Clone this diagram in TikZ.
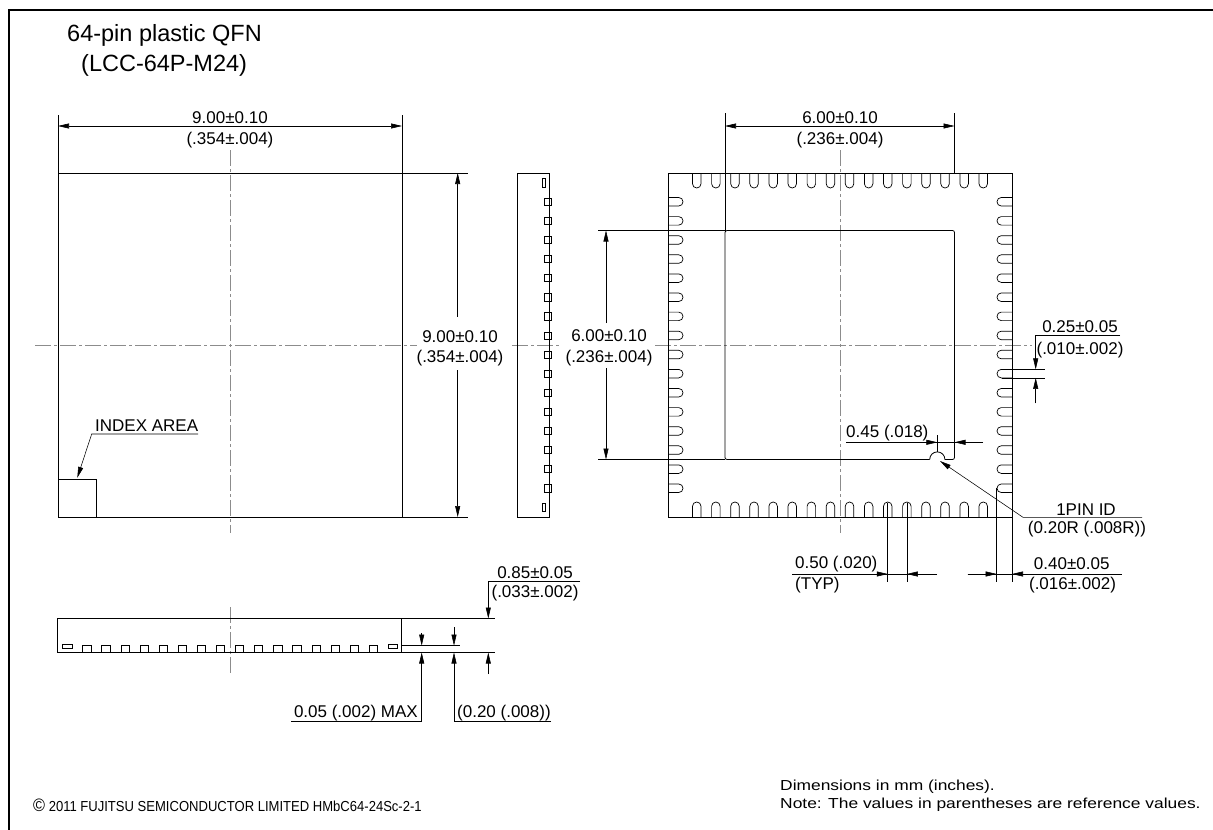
\documentclass[tikz,border=0pt]{standalone}
\usepackage{fontspec}
\setmainfont{Liberation Sans}
\newfontfamily\notefont[FakeStretch=1.2]{Liberation Sans}
\newfontfamily\copyfont[FakeStretch=0.9]{Liberation Sans}
\usetikzlibrary{arrows.meta}
\tikzset{
  outline/.style={draw=black,line width=0.8pt},
  dimline/.style={draw=black,line width=0.55pt},
  dimarrow/.style={dimline,-{Triangle[length=11pt,width=5pt]}},
  dimboth/.style={dimline,{Triangle[length=11pt,width=5pt]}-{Triangle[length=11pt,width=5pt]}},
  cline/.style={draw=black!45,line width=0.7pt,dash pattern=on 16pt off 3pt on 3pt off 3pt},
  dimtext/.style={font=\fontsize{17}{20}\selectfont,inner sep=0pt,text height=12.2pt,text depth=0pt},
  titletext/.style={anchor=base west,inner sep=0pt,font=\fontsize{23.5}{26}\selectfont},
  pinU/.style={outline,line width=0.7pt,rounded corners=4.2pt},
  padbox/.style={outline,line width=0.7pt},
}
\begin{document}
\begin{tikzpicture}[x=1pt,y=-1pt]
\useasboundingbox (0,0) rectangle (1213,830);
\fill[white] (0,0) rectangle (1213,830);
\draw[line width=1.5pt] (9,830) -- (9,10) -- (1213,10);

% title
\node[titletext] (title1) at (67,41.7) {64-pin plastic QFN};
\node[titletext] (title2) at (81,71.7) {(LCC-64P-M24)};

% center lines
\draw[cline] (230,150) -- (230,533);
\draw[cline] (840,150) -- (840,533);
\draw[cline] (230,607) -- (230,676);
\draw[cline] (35,345) -- (417,345);
\draw[cline] (512,345) -- (560,345);
\draw[cline] (655,345) -- (1032,345);

% ---------- top view ----------
\draw[outline] (58,173) rectangle (402,517);
\draw[outline] (58,479) rectangle (96,517);
\node[dimtext,anchor=west] (idx) at (95,425.6) {INDEX AREA};
\draw[dimarrow] (198,434) -- (91.7,434) -- (77.3,477.8);

\draw[dimline] (58,115) -- (58,173);
\draw[dimline] (402,115) -- (402,173);
\draw[dimboth] (58,126) -- (402,126);
\node[dimtext] (w1a) at (230,117.8) {9.00±0.10};
\node[dimtext] (w1b) at (230,138) {(.354±.004)};

\draw[dimline] (402,173) -- (468,173);
\draw[dimline] (402,517) -- (468,517);
\draw[dimarrow] (457.7,316.7) -- (457.7,173);
\draw[dimarrow] (457.7,370) -- (457.7,517);
\node[dimtext] (h1a) at (460,336) {9.00±0.10};
\node[dimtext] (h1b) at (460,356) {(.354±.004)};

% ---------- side view ----------
\draw[outline] (517,173) rectangle (549.2,517);
\foreach \i in {0,...,15}{
  \pgfmathsetmacro{\py}{345+(\i-7.5)*19.1}
  \draw[padbox] (544.6,{\py-3.6}) rectangle (551.8,{\py+3.6});
}
\draw[padbox] (542.6,178.3) rectangle (545.6,186.9);
\draw[padbox] (542.6,503.1) rectangle (545.6,511.7);

% ---------- bottom view ----------
\draw[outline] (668,173) rectangle (1012,517);
\foreach \i in {0,...,15}{
  \pgfmathsetmacro{\px}{840+(\i-7.5)*19.1}
  \pgfmathsetmacro{\py}{345+(\i-7.5)*19.1}
  \draw[pinU] ({\px-4.25},173) -- ({\px-4.25},188) -- ({\px+4.25},188) -- ({\px+4.25},173);
  \draw[pinU] ({\px-4.25},517) -- ({\px-4.25},502) -- ({\px+4.25},502) -- ({\px+4.25},517);
  \draw[pinU] (668,{\py-4.25}) -- (683,{\py-4.25}) -- (683,{\py+4.25}) -- (668,{\py+4.25});
  \draw[pinU] (1012,{\py-4.25}) -- (997,{\py-4.25}) -- (997,{\py+4.25}) -- (1012,{\py+4.25});
}
% exposed pad with 1pin notch
\draw[outline,rounded corners=2pt] (929.7,459.5) -- (725,459.5) -- (725,230.5) -- (954.5,230.5) -- (954.5,459.5) -- (944.9,459.5);
\draw[outline,rounded corners=7.5pt] (929.7,459.5) -- (929.7,451.9) -- (944.9,451.9) -- (944.9,459.5);

% 6.00 top
\draw[dimline] (725,113) -- (725,230.5);
\draw[dimline] (954.5,113) -- (954.5,173);
\draw[dimboth] (725,126) -- (954.5,126);
\node[dimtext] (w2a) at (840,117.8) {6.00±0.10};
\node[dimtext] (w2b) at (840,138) {(.236±.004)};

% 6.00 left
\draw[dimline] (598,230.5) -- (725,230.5);
\draw[dimline] (598,459.5) -- (725,459.5);
\draw[dimarrow] (606,323) -- (606,230.5);
\draw[dimarrow] (606,368) -- (606,459.5);
\node[dimtext] (h2a) at (609,335) {6.00±0.10};
\node[dimtext] (h2b) at (609,356) {(.236±.004)};

% 0.25
\draw[dimline] (1001.5,369.4) -- (1045,369.4);
\draw[dimline] (1001.5,377.9) -- (1045,377.9);
\draw[dimarrow] (1120,335) -- (1035.7,335) -- (1035.7,369.4);
\draw[dimarrow] (1035.7,403.3) -- (1035.7,377.9);
\node[dimtext] (t25a) at (1080,326) {0.25±0.05};
\node[dimtext] (t25b) at (1080,348) {(.010±.002)};

% 0.45
\draw[dimline] (846,442.3) -- (983,442.3);
\draw[dimarrow] (900,442.3) -- (937.3,442.3);
\draw[dimarrow] (983,442.3) -- (954.5,442.3);
\draw[dimline] (937.3,435) -- (937.3,451.9);
\node[dimtext,anchor=west] (t45) at (846,431.2) {0.45 (.018)};

% 1PIN ID
\draw[dimarrow] (1142,517.3) -- (1023,517.3) -- (940,461);
\node[dimtext] (pid1) at (1086,509.2) {1PIN ID};
\node[dimtext] (pid2) at (1087,527.2) {(0.20R (.008R))};

% 0.50 pitch
\draw[dimline] (887.75,502.5) -- (887.75,581.7);
\draw[dimline] (906.85,502.5) -- (906.85,581.7);
\draw[dimline] (792,574) -- (937,574);
\draw[dimarrow] (860,574) -- (887.75,574);
\draw[dimarrow] (937,574) -- (906.85,574);
\node[dimtext,anchor=west] (t50a) at (795,562.7) {0.50 (.020)};
\node[dimtext,anchor=west] (t50b) at (795,583.3) {(TYP)};

% 0.40
\draw[dimline] (996.7,488.3) -- (996.7,581.7);
\draw[dimline] (1012,517) -- (1012,581.7);
\draw[dimline] (967.7,574) -- (1121.7,574);
\draw[dimarrow] (967.7,574) -- (996.7,574);
\draw[dimarrow] (1060,574) -- (1012,574);
\node[dimtext] (t40a) at (1071.7,563.3) {0.40±0.05};
\node[dimtext] (t40b) at (1072.5,583.3) {(.016±.002)};

% ---------- front (side) view ----------
\draw[outline] (57,618.5) rectangle (401.7,652.5);
\foreach \i in {0,...,15}{
  \pgfmathsetmacro{\px}{230+(\i-7.5)*19.1}
  \draw[padbox] ({\px-4.1},645.6) rectangle ({\px+4.1},652.8);
}
\draw[padbox] (62.5,644.6) rectangle (72,648.6);
\draw[padbox] (388,644.6) rectangle (397.5,648.6);
\draw[dimline] (401.7,618.5) -- (495,618.5);
\draw[dimline] (401.7,645.6) -- (460,645.6);
\draw[dimline] (401.7,652.5) -- (495,652.5);

\draw[dimarrow] (580,581) -- (488.3,581) -- (488.3,618.5);
\draw[dimarrow] (488.3,674) -- (488.3,652.5);
\node[dimtext] (t85a) at (535,572) {0.85±0.05};
\node[dimtext] (t85b) at (535,591) {(.033±.002)};

\draw[dimarrow] (421.7,633) -- (421.7,645.6);
\draw[dimarrow] (291,721) -- (421.7,721) -- (421.7,652.5);
\node[dimtext,anchor=east] (t05) at (418,711) {0.05 (.002) MAX};

\draw[dimarrow] (454,627) -- (454,645.6);
\draw[dimarrow] (551,721) -- (454,721) -- (454,652.5);
\node[dimtext,anchor=west] (t20) at (457,711) {(0.20 (.008))};

% ---------- notes ----------
\node[anchor=base west,inner sep=0pt,font=\copyfont\fontsize{14.5}{16}\selectfont] (copy) at (33,811) {{\fontsize{18}{18}\selectfont\textcopyright}\ 2011 FUJITSU SEMICONDUCTOR LIMITED HMbC64-24Sc-2-1};
\node[anchor=base west,inner sep=0pt,font=\notefont\fontsize{14.5}{16}\selectfont] (note1) at (780,790) {Dimensions in mm (inches).};
\node[anchor=base west,inner sep=0pt,font=\notefont\fontsize{14.5}{16}\selectfont] (note2) at (780,808) {Note: The values in parentheses are reference values.};
\end{tikzpicture}
\end{document}
